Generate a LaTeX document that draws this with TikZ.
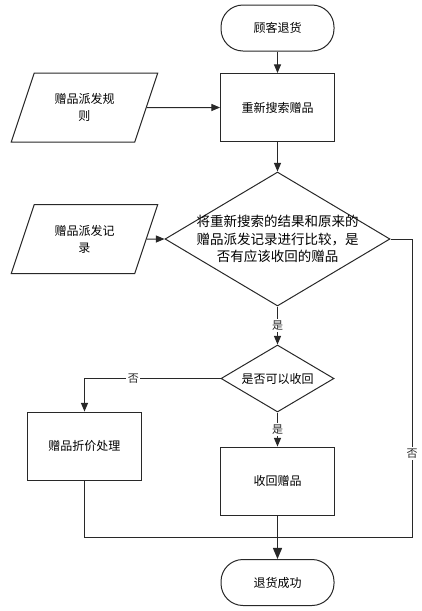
\documentclass[tikz,border=0pt]{standalone}
\usepackage{fontspec}
\setmainfont{Noto Sans CJK SC}
\usepackage{tikz}
\usetikzlibrary{arrows,shapes,positioning}
\usepackage{xcolor}
\definecolor{fcline}{RGB}{40,40,40}
\tikzstyle{terminal} = [rectangle, draw=fcline, line width=1pt, minimum width=113pt, minimum height=46pt, rounded corners=22pt, font=\fontsize{12}{15}\selectfont]
\tikzstyle{process} = [rectangle, draw=fcline, line width=1pt, minimum width=114pt, minimum height=68pt, font=\fontsize{12}{15}\selectfont]
\tikzstyle{iobox} = [trapezium, trapezium left angle=64, trapezium right angle=116, trapezium stretches=true, draw=fcline, line width=1pt, minimum width=147pt, minimum height=69pt, inner sep=0pt, align=center, font=\fontsize{12}{17}\selectfont]
\tikzstyle{decision} = [diamond, draw=fcline, line width=1pt, inner sep=0pt]
\tikzstyle{flow} = [line width=1pt, color=fcline]
\tikzstyle{arrow} = [flow, ->, >=triangle 45]
\tikzstyle{lbl} = [fill=white, inner sep=1.5pt, font=\fontsize{11}{13}\selectfont]

\begin{document}
\begin{tikzpicture}[x=1pt, y=-1pt]
\useasboundingbox (0,0) rectangle (421,611);
% Main column
\node[terminal] (start) at (277.5,28) {顾客退货};
\node[process] (search) at (277.5,107.5) {重新搜索赠品};
\node[decision, minimum width=225pt, minimum height=134pt,
  label={[align=center, font=\fontsize{13.5}{17.5}\selectfont]center:将重新搜索的结果和原来的\\赠品派发记录进行比较，是\\否有应该收回的赠品}] (compare) at (277.5,239) {};
\node[decision, minimum width=113pt, minimum height=67pt,
  label={[font=\fontsize{12}{15}\selectfont]center:是否可以收回}] (canback) at (277.5,378.5) {};
\node[process] (takeback) at (277.5,481) {收回赠品};
\node[terminal] (finish) at (277.5,582.5) {退货成功};

% Inputs and side branch
\node[iobox] (rules) at (84.5,107.5) {赠品派发规\\则};
\node[iobox] (records) at (84.5,239) {赠品派发记\\录};
\node[process] (discount) at (84.5,446) {赠品折价处理};

% Helper points
\coordinate (join) at (277.5,537);
\coordinate (rback) at (412,537);

% Connectors
\draw[arrow] (start) -- (search);
\draw[arrow] (rules.east) -- (search.west);
\draw[arrow] (search) -- (compare.north);
\draw[arrow] (records.east) -- (compare.west);
\draw[arrow] (compare.south) -- node[lbl] {是} (canback.north);
\draw[arrow] (canback.west) -| node[lbl, pos=0.32] {否} (discount.north);
\draw[arrow] (canback.south) -- node[lbl] {是} (takeback.north);
\draw[flow] (compare.east) -| node[lbl, pos=0.86] {否} (rback) -- (join);
\draw[flow] (discount.south) |- (join);
\draw[arrow, line width=1.6pt] (takeback.south) -- (finish.north);
\end{tikzpicture}
\end{document}
